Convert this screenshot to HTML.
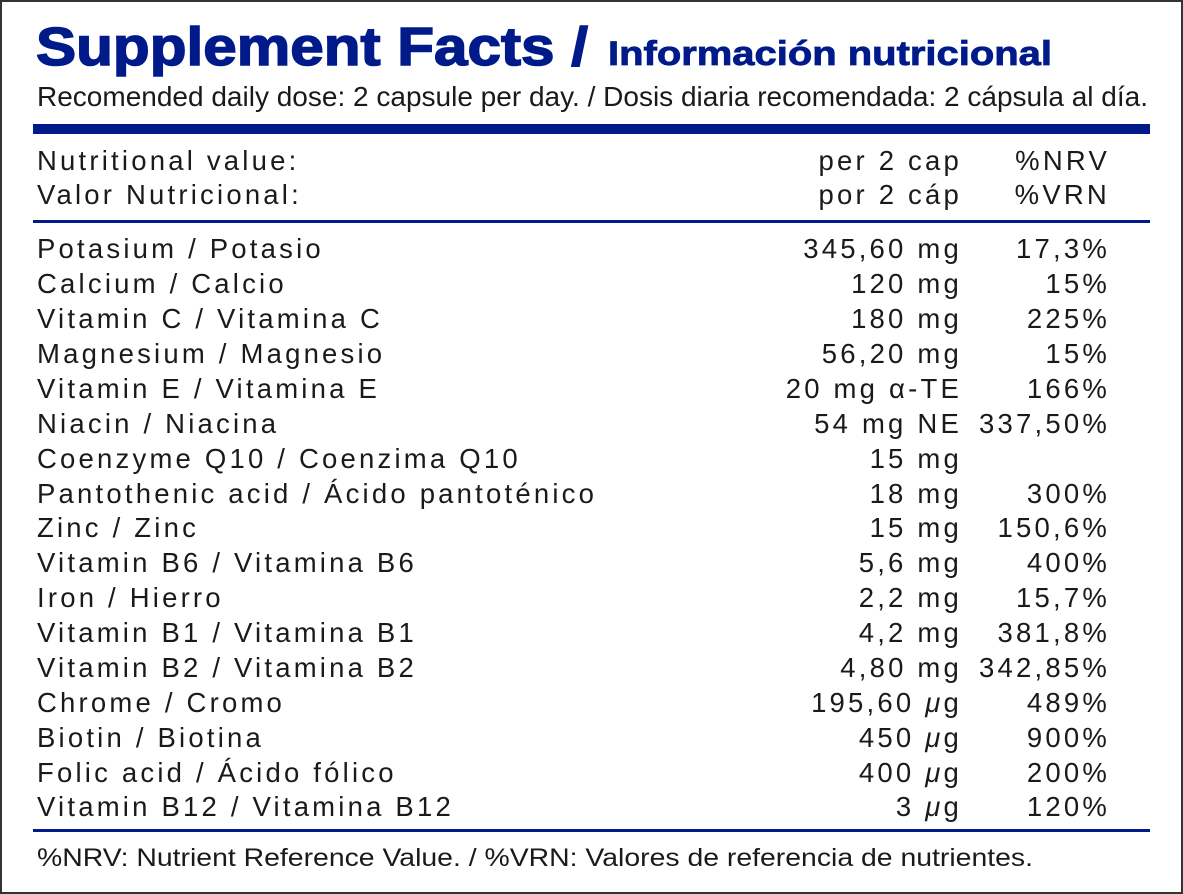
<!DOCTYPE html>
<html><head><meta charset="utf-8"><style>
html,body{margin:0;padding:0;background:#fff}
svg{display:block}
text{font-family:"Liberation Sans",sans-serif;fill:#1a1a1a}
.r{font-size:27.5px;letter-spacing:3.2px}
</style></head><body>
<svg width="1183" height="894" viewBox="0 0 1183 894" xmlns="http://www.w3.org/2000/svg">
<rect x="1" y="1" width="1181" height="892" fill="#fff" stroke="#333" stroke-width="2"/>
<text x="36" y="65" font-size="54" font-weight="bold" style="fill:#001a8a;stroke:#001a8a;stroke-width:1.5" textLength="552" lengthAdjust="spacingAndGlyphs">Supplement Facts /</text>
<text x="608" y="65" font-size="34" font-weight="bold" style="fill:#001a8a;stroke:#001a8a;stroke-width:0.8" textLength="444" lengthAdjust="spacingAndGlyphs">Información nutricional</text>
<text x="37" y="106" font-size="28" textLength="1111" lengthAdjust="spacingAndGlyphs">Recomended daily dose: 2 capsule per day. / Dosis diaria recomendada: 2 cápsula al día.</text>
<rect x="33" y="124" width="1117" height="10" fill="#001a8a"/>
<rect x="33" y="220" width="1117" height="3" fill="#001a8a"/>
<rect x="33" y="829" width="1117" height="3" fill="#001a8a"/>
<g class="r">
<text x="37" y="170">Nutritional value:</text>
<text x="37" y="204">Valor Nutricional:</text>
<text x="962" y="170" text-anchor="end">per 2 cap</text>
<text x="962" y="204" text-anchor="end">por 2 cáp</text>
<text x="1110" y="170" text-anchor="end">%NRV</text>
<text x="1110" y="204" text-anchor="end">%VRN</text>
</g>
<g class="r">
<text x="37" y="258">Potasium / Potasio</text><text x="962" y="258" text-anchor="end">345,60 mg</text><text x="1110" y="258" text-anchor="end">17,3%</text>
<text x="37" y="293">Calcium / Calcio</text><text x="962" y="293" text-anchor="end">120 mg</text><text x="1110" y="293" text-anchor="end">15%</text>
<text x="37" y="328">Vitamin C / Vitamina C</text><text x="962" y="328" text-anchor="end">180 mg</text><text x="1110" y="328" text-anchor="end">225%</text>
<text x="37" y="363">Magnesium / Magnesio</text><text x="962" y="363" text-anchor="end">56,20 mg</text><text x="1110" y="363" text-anchor="end">15%</text>
<text x="37" y="398">Vitamin E / Vitamina E</text><text x="962" y="398" text-anchor="end">20 mg α-TE</text><text x="1110" y="398" text-anchor="end">166%</text>
<text x="37" y="433">Niacin / Niacina</text><text x="962" y="433" text-anchor="end">54 mg NE</text><text x="1110" y="433" text-anchor="end">337,50%</text>
<text x="37" y="468">Coenzyme Q10 / Coenzima Q10</text><text x="962" y="468" text-anchor="end">15 mg</text>
<text x="37" y="503">Pantothenic acid / Ácido pantoténico</text><text x="962" y="503" text-anchor="end">18 mg</text><text x="1110" y="503" text-anchor="end">300%</text>
<text x="37" y="537">Zinc / Zinc</text><text x="962" y="537" text-anchor="end">15 mg</text><text x="1110" y="537" text-anchor="end">150,6%</text>
<text x="37" y="572">Vitamin B6 / Vitamina B6</text><text x="962" y="572" text-anchor="end">5,6 mg</text><text x="1110" y="572" text-anchor="end">400%</text>
<text x="37" y="607">Iron / Hierro</text><text x="962" y="607" text-anchor="end">2,2 mg</text><text x="1110" y="607" text-anchor="end">15,7%</text>
<text x="37" y="642">Vitamin B1 / Vitamina B1</text><text x="962" y="642" text-anchor="end">4,2 mg</text><text x="1110" y="642" text-anchor="end">381,8%</text>
<text x="37" y="677">Vitamin B2 / Vitamina B2</text><text x="962" y="677" text-anchor="end">4,80 mg</text><text x="1110" y="677" text-anchor="end">342,85%</text>
<text x="37" y="712">Chrome / Cromo</text><text x="962" y="712" text-anchor="end">195,60 <tspan font-style="italic">μ</tspan>g</text><text x="1110" y="712" text-anchor="end">489%</text>
<text x="37" y="747">Biotin / Biotina</text><text x="962" y="747" text-anchor="end">450 <tspan font-style="italic">μ</tspan>g</text><text x="1110" y="747" text-anchor="end">900%</text>
<text x="37" y="782">Folic acid / Ácido fólico</text><text x="962" y="782" text-anchor="end">400 <tspan font-style="italic">μ</tspan>g</text><text x="1110" y="782" text-anchor="end">200%</text>
<text x="37" y="816">Vitamin B12 / Vitamina B12</text><text x="962" y="816" text-anchor="end">3 <tspan font-style="italic">μ</tspan>g</text><text x="1110" y="816" text-anchor="end">120%</text>
</g>
<text x="37" y="866" font-size="25" textLength="996" lengthAdjust="spacingAndGlyphs">%NRV: Nutrient Reference Value. / %VRN: Valores de referencia de nutrientes.</text>
</svg>
</body></html>
